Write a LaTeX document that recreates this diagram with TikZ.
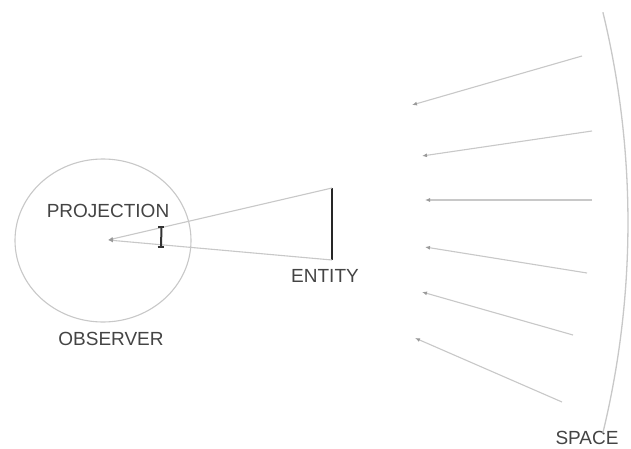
\documentclass[tikz,border=0pt]{standalone}
\usepackage{fontspec}
\setmainfont{Liberation Sans}
\usetikzlibrary{arrows.meta,shapes.geometric}
\definecolor{ray}{HTML}{C8C8C8}
\definecolor{tipc}{HTML}{9A9A9A}
\definecolor{txt}{HTML}{444444}
\begin{document}
\begin{tikzpicture}[x=1pt,y=1pt,
  raystyle/.style={draw=ray,line width=1.1pt,-{Latex[length=5pt,width=4pt,color=tipc]}},
  lab/.style={inner sep=0pt,text=txt,font=\fontsize{19pt}{21pt}\selectfont}]
\useasboundingbox (0,0) rectangle (631,448);
\fill[white] (0,0) rectangle (631,448);
% observer
\node[draw=ray,line width=1.1pt,ellipse,minimum width=176pt,minimum height=163pt,inner sep=0pt] (obs) at (103,207.5) {};
\coordinate (eye) at (108,208);
\coordinate (etop) at (332,260);
\coordinate (ebot) at (332,188);
\draw[black!85,line width=2pt] (etop) -- (ebot);
\draw[raystyle] (etop) -- (eye);
\draw[raystyle] (ebot) -- (eye);
% angle bracket
\draw[black!80,line width=1.2pt] (158,221) -- (164,221);
\draw[black!80,line width=2pt] (161.5,221) -- (161,201);
\draw[black!80,line width=1.2pt] (157.5,201) -- (163.5,201);
% labels
\node[lab] (proj) at (108,237) {PROJECTION};
\node[lab] (ent) at (325,172) {ENTITY};
\node[lab] (obsl) at (111,109) {OBSERVER};
\node[lab] (spc) at (587,10) {SPACE};
% incoming rays
\coordinate (s1) at (582,392); \coordinate (e1) at (412,343);
\coordinate (s2) at (592,317); \coordinate (e2) at (422,292);
\coordinate (s3) at (592,248); \coordinate (e3) at (425,248);
\coordinate (s4) at (587,175); \coordinate (e4) at (425,201);
\coordinate (s5) at (573,113); \coordinate (e5) at (422,156);
\coordinate (s6) at (562,46);  \coordinate (e6) at (415,110);
\foreach \i in {1,...,6} {\draw[raystyle] (s\i) -- (e\i);}
% space boundary
\coordinate (sc) at (-266.5,225.5);
\draw[draw=ray,line width=1.3pt] (sc) ++(13.6:894.5pt) arc[start angle=13.6,end angle=-13.6,radius=894.5pt];
\end{tikzpicture}
\end{document}
